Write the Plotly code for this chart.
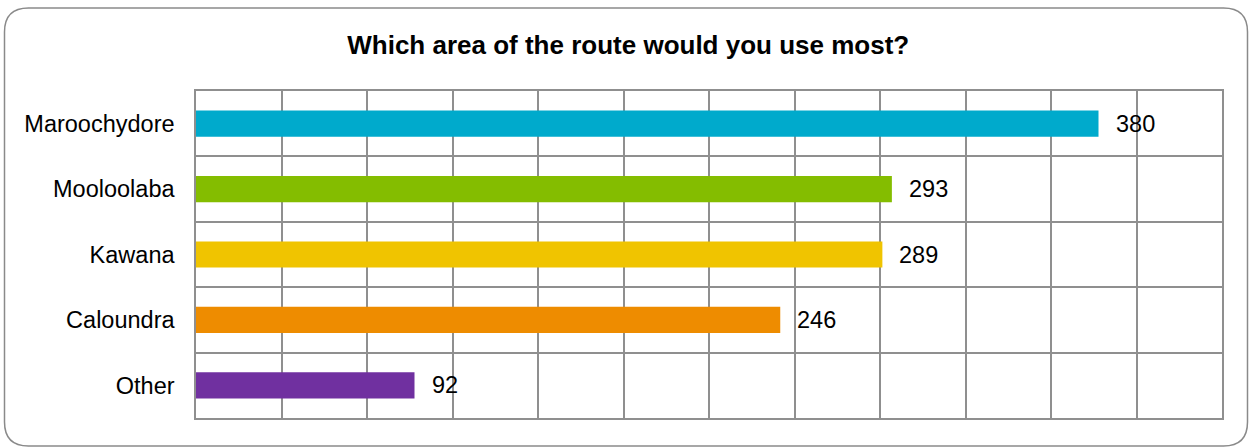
import plotly.graph_objects as go

categories = ["Maroochydore", "Mooloolaba", "Kawana", "Caloundra", "Other"]
values = [380, 293, 289, 246, 92]
colors = ["#00AACC", "#84BD00", "#F0C400", "#EE8C00", "#7030A0"]
title_text = "Which area of the route would you use most?"

W, H = 1249, 448
L, R, T, B = 196, 1222, 91, 418
FONT = "Liberation Sans, Arial, sans-serif"

fig = go.Figure()
fig.add_trace(go.Bar(
    y=categories, x=values, orientation="h",
    marker=dict(color=colors, line=dict(width=0)),
    width=0.4, hoverinfo="x+y",
))

for c, v in zip(categories, values):
    fig.add_annotation(x=v, y=c, text=str(v), showarrow=False,
                       xanchor="left", yanchor="middle", xshift=15,
                       font=dict(family=FONT, size=23.5, color="#000000"))

# rounded outer border in paper coordinates
def px(x):
    return (x - L) / (R - L)

def py(y):
    return (B - y) / (B - T)

x0, x1, y0, y1, r = 4.5, 1247.5, 8, 446, 24
pts = (f"M {px(x0 + r)},{py(y0)} L {px(x1 - r)},{py(y0)} "
       f"Q {px(x1)},{py(y0)} {px(x1)},{py(y0 + r)} "
       f"L {px(x1)},{py(y1 - r)} Q {px(x1)},{py(y1)} {px(x1 - r)},{py(y1)} "
       f"L {px(x0 + r)},{py(y1)} Q {px(x0)},{py(y1)} {px(x0)},{py(y1 - r)} "
       f"L {px(x0)},{py(y0 + r)} Q {px(x0)},{py(y0)} {px(x0 + r)},{py(y0)} Z")
fig.add_shape(type="path", path=pts, xref="paper", yref="paper",
              line=dict(color="#8a8a8a", width=1.5), layer="below")

fig.update_layout(
    width=W, height=H,
    margin=dict(l=L, r=W - R, t=T, b=H - B),
    paper_bgcolor="white", plot_bgcolor="white",
    showlegend=False,
    font=dict(family=FONT, size=23.5, color="#000000"),
    title=dict(text=f"<b>{title_text}</b>", xref="container", x=0.503,
               y=1 - 45 / H, xanchor="center", yanchor="middle",
               font=dict(family=FONT, size=26, color="#000000")),
    bargap=0.6,
)
fig.update_xaxes(range=[0, 432], dtick=36, tick0=0, showticklabels=False,
                 showgrid=True, gridcolor="#8f8f8f", gridwidth=1.5,
                 zeroline=False, showline=True, linecolor="#8f8f8f",
                 linewidth=1.5, mirror=True, ticks="")
fig.update_yaxes(autorange="reversed", tickson="boundaries",
                 showgrid=True, gridcolor="#8f8f8f", gridwidth=1.5,
                 showline=True, linecolor="#8f8f8f", linewidth=1.5,
                 mirror=True, ticks="", ticklabelstandoff=15,
                 tickfont=dict(family=FONT, size=23.5, color="#000000"))

fig.write_html("out.html", config={"displayModeBar": False},
               post_script="document.body.style.margin='0';"
                           "document.body.style.overflow='hidden';")
